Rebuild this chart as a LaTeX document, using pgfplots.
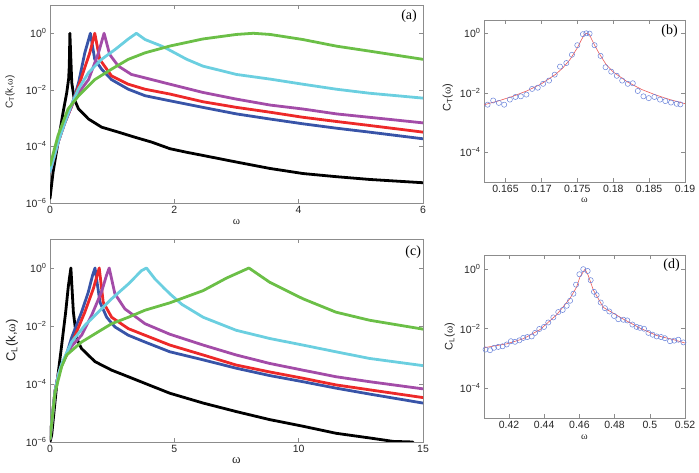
\documentclass[border=0pt]{standalone}
\usepackage{fontspec}
\setmainfont{Liberation Sans}
\newfontfamily\serif{Liberation Serif}
\usepackage{pgfplots}
\pgfplotsset{compat=1.18}

\definecolor{cblue}{rgb}{0.22,0.33,0.66}
\definecolor{cred}{rgb}{0.93,0.16,0.16}
\definecolor{cmag}{rgb}{0.64,0.30,0.66}
\definecolor{ccyan}{rgb}{0.42,0.81,0.88}
\definecolor{cgreen}{rgb}{0.42,0.75,0.28}
\definecolor{cpt}{rgb}{0.40,0.50,0.85}
\definecolor{cfit}{rgb}{0.92,0.35,0.35}

\pgfplotsset{
  myax/.style={scale only axis, anchor=south west,
    axis line style={black!45}, tick style={black!45, line width=0.5pt},
    tick align=inside, major tick length=4pt, yminorticks=false, xminorticks=false,
    ticklabel style={font=\fontsize{10.5}{12}\selectfont, text=black!85},
    label style={text=black!85},
  },
  myband/.style={line width=2.8pt, line join=round, line cap=round, no markers},
  mypts/.style={only marks, mark=o, mark size=2.6pt, color=cpt, mark options={line width=0.5pt}},
  myfit/.style={no markers, color=cfit, line width=0.6pt},
}

\begin{document}
\begin{tikzpicture}
\useasboundingbox (0pt,0pt) rectangle (699pt,473pt);

% ---------------- (a)
\begin{axis}[myax, ymode=log, at={(50pt,270pt)}, width=373pt, height=198pt,
  xmin=0, xmax=6, ymin=1e-6, ymax=10,
  ytick={1e-6,1e-4,1e-2,1},
  yticklabels={10\textsuperscript{−6},10\textsuperscript{−4},10\textsuperscript{−2},10\textsuperscript{0}},
  xtick={0,2,4,6}, xticklabels={0,2,4,6},
  xlabel={\serif\fontsize{11}{12}\selectfont ω},
  xlabel style={at={(axis description cs:0.5,-0.096)}, anchor=center},
  ylabel={\fontsize{10}{11}\selectfont C\textsubscript{T}(k,{\serif ω})},
  ylabel style={at={(axis description cs:-0.107,0.56)}, anchor=center},
]
\addplot[myband, black] coordinates {(0,1.45e-6) (0.05,1.26e-5) (0.13,1.41e-4) (0.21,1.58e-3) (0.27,8.1e-3) (0.3,2.5e-2) (0.31,6.9e-2) (0.32,1) (0.35,1.8e-2) (0.39,4.7e-3) (0.46,2.1e-3) (0.62,9.3e-4) (0.83,4.8e-4) (1.1,3.2e-4) (1.37,2.1e-4) (1.64,1.41e-4) (1.93,8.3e-5) (2.2,6.2e-5) (2.46,4.8e-5) (3.0,2.8e-5) (3.54,1.66e-5) (4.07,1.1e-5) (4.61,8.5e-6) (5.14,6.8e-6) (6.0,5.2e-6)};
\addplot[myband, cblue] coordinates {(0,1.26e-5) (0.13,1.41e-4) (0.24,7.1e-4) (0.35,2.75e-3) (0.46,1.8e-2) (0.56,0.204) (0.65,1) (0.72,0.12) (0.83,5.4e-2) (0.99,2.3e-2) (1.26,1.05e-2) (1.53,6.2e-3) (1.93,4.1e-3) (2.46,2.4e-3) (3.0,1.41e-3) (3.54,9.3e-4) (4.07,6.3e-4) (4.61,4.4e-4) (5.14,3.2e-4) (6.0,1.86e-4)};
\addplot[myband, cred] coordinates {(0,1.26e-5) (0.13,1.41e-4) (0.24,7.1e-4) (0.35,2.75e-3) (0.5,2.5e-2) (0.64,0.204) (0.72,1) (0.8,0.12) (0.99,3.1e-2) (1.26,1.58e-2) (1.53,1.05e-2) (1.93,7.1e-3) (2.46,3.8e-3) (3.0,2.4e-3) (3.54,1.62e-3) (4.07,1.07e-3) (4.61,7.6e-4) (5.14,5.5e-4) (6.0,3.2e-4)};
\addplot[myband, cmag] coordinates {(0,1.26e-5) (0.13,1.41e-4) (0.24,7.1e-4) (0.35,2.75e-3) (0.46,7.9e-3) (0.62,2.3e-2) (0.78,0.204) (0.87,1) (0.96,0.178) (1.1,6.9e-2) (1.31,3.5e-2) (1.64,2.3e-2) (1.93,1.58e-2) (2.46,8.1e-3) (3.0,4.7e-3) (3.54,2.9e-3) (4.07,2.1e-3) (4.61,1.41e-3) (5.14,1.07e-3) (6.0,6.8e-4)};
\addplot[myband, ccyan] coordinates {(0,1.26e-5) (0.13,1.41e-4) (0.24,7.1e-4) (0.35,3.2e-3) (0.46,1.1e-2) (0.62,4.1e-2) (0.83,0.12) (1.05,0.27) (1.26,0.63) (1.39,1) (1.53,0.6) (1.8,0.35) (1.93,0.25) (2.2,0.12) (2.46,6.9e-2) (3.0,3.5e-2) (3.54,2.4e-2) (4.07,1.58e-2) (4.61,1.05e-2) (5.14,7.6e-3) (6.0,5.1e-3)};
\addplot[myband, cgreen] coordinates {(0,2.1e-5) (0.13,2.45e-4) (0.29,2.1e-3) (0.46,6.2e-3) (0.72,2.3e-2) (0.99,5.4e-2) (1.26,0.12) (1.53,0.204) (1.93,0.355) (2.46,0.63) (3.0,0.91) (3.27,1) (3.54,0.91) (4.07,0.6) (4.61,0.35) (5.14,0.234) (6.0,0.12)};
\node[anchor=north east, font=\serif\fontsize{14}{14}\selectfont, inner sep=0pt] at (rel axis cs:0.984,0.975) {(a)};
\end{axis}

% ---------------- (b)
\begin{axis}[myax, ymode=log, at={(484pt,291pt)}, width=201pt, height=162pt,
  xmin=0.162, xmax=0.19, ymin=1e-5, ymax=2.8,
  ytick={1e-4,1e-2,1},
  yticklabels={10\textsuperscript{−4},10\textsuperscript{−2},10\textsuperscript{0}},
  xtick={0.165,0.17,0.175,0.18,0.185,0.19},
  xticklabels={0.165,0.17,0.175,0.18,0.185,0.19},
  xlabel={\serif\fontsize{10}{11}\selectfont ω},
  xlabel style={at={(axis description cs:0.5,-0.11)}, anchor=center},
  ylabel={\fontsize{11}{12}\selectfont C\textsubscript{T}({\serif ω})},
  ylabel style={at={(axis description cs:-0.18,0.52)}, anchor=center},
]
\addplot[mypts] coordinates {(0.1625,0.00398) (0.16328,0.0055) (0.16407,0.00457) (0.16481,0.00398) (0.1656,0.00589) (0.16638,0.00724) (0.16713,0.00759) (0.16791,0.0087) (0.1687,0.0135) (0.16949,0.0148) (0.17023,0.02) (0.17106,0.0257) (0.17185,0.0407) (0.17259,0.0759) (0.17347,0.1) (0.17425,0.19) (0.175,0.398) (0.17578,0.933) (0.17625,1) (0.17671,0.977) (0.1774,0.398) (0.17824,0.174) (0.17893,0.0724) (0.17972,0.0513) (0.1805,0.0372) (0.18125,0.0257) (0.18203,0.02) (0.18273,0.0209) (0.18342,0.0115) (0.18421,0.00759) (0.18495,0.0066) (0.18574,0.00724) (0.18652,0.00589) (0.18726,0.00525) (0.18805,0.00468) (0.18884,0.00427) (0.18935,0.00407)};
\addplot[myfit] coordinates {(0.162,0.00394) (0.164,0.00532) (0.166,0.00758) (0.168,0.01163) (0.170,0.02) (0.172,0.042) (0.173,0.0692) (0.174,0.1328) (0.175,0.324) (0.1755,0.559) (0.176,0.93) (0.1763,1) (0.1767,0.9) (0.177,0.623) (0.1775,0.36) (0.178,0.219) (0.179,0.09) (0.180,0.05) (0.182,0.023) (0.184,0.0128) (0.186,0.0083) (0.188,0.0058) (0.190,0.0043)};
\node[anchor=north east, font=\serif\fontsize{14}{14}\selectfont, inner sep=0pt] at (rel axis cs:0.965,0.969) {(b)};
\end{axis}

% ---------------- (c)
\begin{axis}[myax, ymode=log, at={(50pt,31pt)}, width=373pt, height=203pt,
  xmin=0, xmax=15, ymin=1e-6, ymax=10,
  ytick={1e-6,1e-4,1e-2,1},
  yticklabels={10\textsuperscript{−6},10\textsuperscript{−4},10\textsuperscript{−2},10\textsuperscript{0}},
  xtick={0,5,10,15}, xticklabels={0,5,10,15},
  xlabel={\serif\fontsize{13}{14}\selectfont ω},
  xlabel style={at={(axis description cs:0.5,-0.089)}, anchor=center},
  ylabel={\fontsize{13}{15}\selectfont C\textsubscript{L}(k,{\serif ω})},
  ylabel style={at={(axis description cs:-0.102,0.50)}, anchor=center},
]
\addplot[myband, black] coordinates {(0,1e-6) (0.07,1.78e-6) (0.27,9.3e-5) (0.47,2.2e-3) (0.63,3.0e-2) (0.74,0.245) (0.84,1) (0.94,3.0e-2) (1.07,3.7e-3) (1.27,1.66e-3) (1.81,5.9e-4) (2.48,3.0e-4) (3.15,1.78e-4) (3.82,1.05e-4) (4.82,4.8e-5) (6.16,2.2e-5) (7.49,1.12e-5) (8.84,5.9e-6) (10.17,3.5e-6) (11.5,2.0e-6) (12.85,1.38e-6) (13.8,1.05e-6) (14.6,1e-6)};
\addplot[myband, cblue] coordinates {(0,1.26e-6) (0.2,5.5e-5) (0.33,2.0e-4) (0.47,4.5e-4) (0.67,1.1e-3) (0.87,4.0e-3) (1.27,3.0e-2) (1.54,0.148) (1.71,0.55) (1.81,1) (2.01,6.6e-2) (2.28,2.0e-2) (2.61,9.3e-3) (3.15,4.8e-3) (3.82,2.8e-3) (4.82,1.29e-3) (6.16,6.8e-4) (7.49,3.5e-4) (8.84,1.95e-4) (10.17,1.2e-4) (11.5,7.2e-5) (12.85,4.5e-5) (15,2.2e-5)};
\addplot[myband, cred] coordinates {(0,1.26e-6) (0.2,5.5e-5) (0.33,2.0e-4) (0.47,4.5e-4) (0.67,1e-3) (0.9,2.8e-3) (1.4,3.0e-2) (1.74,0.19) (1.98,1) (2.14,6.6e-2) (2.48,2.0e-2) (3.15,8.1e-3) (3.82,4.8e-3) (4.82,2.2e-3) (6.16,1e-3) (7.49,4.5e-4) (8.84,2.6e-4) (10.17,1.58e-4) (11.5,9.3e-5) (12.85,6.3e-5) (15,3.4e-5)};
\addplot[myband, cmag] coordinates {(0,1.26e-6) (0.2,5.5e-5) (0.33,2.0e-4) (0.47,4.5e-4) (0.67,1e-3) (0.87,2.0e-3) (1.27,4.8e-3) (1.67,2.3e-2) (2.07,0.148) (2.27,0.55) (2.38,1) (2.61,0.129) (3.01,3.9e-2) (3.82,1.2e-2) (4.82,5.2e-3) (6.16,2.2e-3) (7.49,1e-3) (8.84,5.1e-4) (10.17,3.0e-4) (11.5,1.78e-4) (12.85,1.2e-4) (15,6.8e-5)};
\addplot[myband, ccyan] coordinates {(0,1.26e-6) (0.2,5.5e-5) (0.33,2.0e-4) (0.47,5e-4) (0.87,2.8e-3) (1.4,1.05e-2) (1.94,3.0e-2) (2.48,8.7e-2) (3.15,0.28) (3.68,0.81) (3.88,1) (4.22,0.42) (4.62,0.19) (4.82,0.129) (5.3,5.6e-2) (6.16,2.0e-2) (7.49,7.1e-3) (8.84,3.7e-3) (10.17,2.2e-3) (11.5,1.29e-3) (12.85,7.6e-4) (15,4.3e-4)};
\addplot[myband, cgreen] coordinates {(0,1.26e-6) (0.2,5e-5) (0.47,4e-4) (0.67,1e-3) (1.27,2.8e-3) (1.94,6.3e-3) (2.48,1.2e-2) (3.15,2.0e-2) (3.82,3.5e-2) (4.82,6.3e-2) (6.16,0.166) (7.1,0.45) (8.0,1) (8.84,0.32) (10.17,8.7e-2) (11.5,3.0e-2) (12.85,1.58e-2) (15,7.8e-3)};
\node[anchor=north east, font=\serif\fontsize{14}{14}\selectfont, inner sep=0pt] at (rel axis cs:0.995,0.97) {(c)};
\end{axis}

% ---------------- (d)
\begin{axis}[myax, ymode=log, at={(484pt,55pt)}, width=201pt, height=163pt,
  xmin=0.4058, xmax=0.52, ymin=1e-5, ymax=3,
  ytick={1e-4,1e-2,1},
  yticklabels={10\textsuperscript{−4},10\textsuperscript{−2},10\textsuperscript{0}},
  xtick={0.42,0.44,0.46,0.48,0.5,0.52},
  xticklabels={0.42,0.44,0.46,0.48,0.5,0.52},
  xlabel={\serif\fontsize{10}{11}\selectfont ω},
  xlabel style={at={(axis description cs:0.5,-0.117)}, anchor=center},
  ylabel={\fontsize{11}{12}\selectfont C\textsubscript{L}({\serif ω})},
  ylabel style={at={(axis description cs:-0.17,0.50)}, anchor=center},
]
\addplot[mypts] coordinates {(0.4067,0.002) (0.4092,0.0019) (0.4115,0.00229) (0.4139,0.00245) (0.4164,0.00257) (0.4187,0.00295) (0.4211,0.0038) (0.4234,0.00363) (0.4259,0.00407) (0.4281,0.0049) (0.4304,0.00525) (0.4329,0.0055) (0.4348,0.00724) (0.4372,0.00977) (0.4399,0.0115) (0.4423,0.0162) (0.4452,0.024) (0.448,0.0363) (0.4505,0.0427) (0.4528,0.0589) (0.4547,0.0871) (0.4566,0.15) (0.4581,0.302) (0.46,0.676) (0.4622,1) (0.4647,0.871) (0.4664,0.427) (0.4683,0.174) (0.4698,0.135) (0.4721,0.0759) (0.4745,0.049) (0.477,0.038) (0.4797,0.0269) (0.4821,0.0209) (0.485,0.02) (0.4872,0.019) (0.4901,0.0138) (0.4925,0.0115) (0.4944,0.0107) (0.4967,0.01) (0.4992,0.00724) (0.5016,0.0063) (0.5039,0.0055) (0.5064,0.00525) (0.5086,0.00479) (0.5115,0.0038) (0.5139,0.00398) (0.5162,0.00427) (0.5191,0.00347)};
\addplot[myfit] coordinates {(0.4058,0.0023) (0.4187,0.0031) (0.4281,0.0046) (0.4376,0.0093) (0.4471,0.0295) (0.4547,0.105) (0.4584,0.25) (0.4603,0.55) (0.4632,1.0) (0.4651,0.6) (0.4679,0.2) (0.4736,0.052) (0.485,0.021) (0.4944,0.0105) (0.5039,0.0059) (0.5134,0.0043) (0.52,0.0033)};
\node[anchor=north east, font=\serif\fontsize{14}{14}\selectfont, inner sep=0pt] at (rel axis cs:0.975,0.98) {(d)};
\end{axis}
\end{tikzpicture}
\end{document}
